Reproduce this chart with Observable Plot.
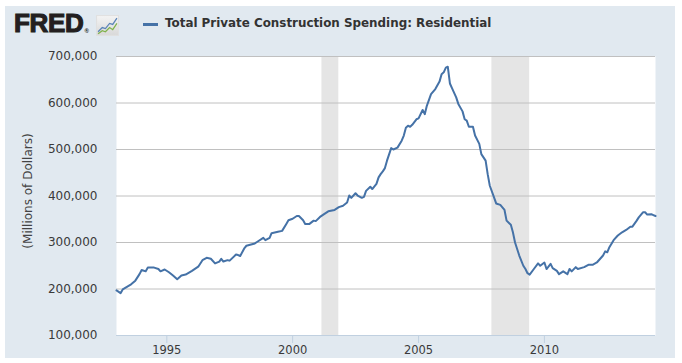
<!DOCTYPE html>
<html><head><meta charset="utf-8">
<script src="https://cdn.jsdelivr.net/npm/d3@7"></script>
<script src="https://cdn.jsdelivr.net/npm/@observablehq/plot@0.6"></script>
<style>
body{margin:0;background:#fff;}
#wrap{position:relative;width:682px;height:363px;overflow:hidden;}
#bg{position:absolute;left:5px;top:6px;width:670px;height:352px;background:#e1e9f0;}
#chart{position:absolute;left:0;top:0;}
#logo{position:absolute;left:14px;top:8px;font:bold 26px "Liberation Sans",Arial,sans-serif;color:#231f20;letter-spacing:-0.3px;-webkit-text-stroke:1.1px #231f20;}
#logo sup{font-size:6px;-webkit-text-stroke:0;vertical-align:-1px;margin-left:1px;}
#icon{position:absolute;left:96px;top:15px;}
#dash{position:absolute;left:143px;top:23px;width:15px;height:3px;background:#4572a7;}
#legend{position:absolute;left:165px;top:16px;font:bold 11.9px "DejaVu Sans",sans-serif;color:#333;white-space:nowrap;}
</style>
</head><body>
<div id="wrap">
  <div id="bg"></div>
  <div id="chart"></div>
  <div id="logo">FRED<sup>®</sup></div>
  <svg id="icon" width="23" height="21" viewBox="0 0 22 20">
    <defs><linearGradient id="g" x1="0" y1="0" x2="0" y2="1"><stop offset="0" stop-color="#f4f4f4"/><stop offset="1" stop-color="#d8d8d8"/></linearGradient></defs>
    <rect x="0.5" y="0.5" width="21" height="19" fill="url(#g)" stroke="#e0e0e0"/>
    <polyline points="2,16 6,12 9,13 13,8 16,9 20,3" fill="none" stroke="#5b84b8" stroke-width="1.2"/>
    <polyline points="2,18 6,15 9,16 13,12 16,14 20,8" fill="none" stroke="#7fb24b" stroke-width="1.2"/>
  </svg>
  <div id="dash"></div>
  <div id="legend">Total Private Construction Spending: Residential</div>
</div>
<script>
const dates = ["1993-01","1993-03","1993-04","1993-08","1993-10","1993-12","1994-01","1994-03","1994-04","1994-07","1994-09","1994-10","1994-12","1995-02","1995-04","1995-06","1995-08","1995-10","1996-01","1996-04","1996-06","1996-08","1996-10","1996-12","1997-02","1997-03","1997-04","1997-06","1997-07","1997-10","1997-11","1997-12","1998-02","1998-03","1998-07","1998-08","1998-11","1998-12","1999-02","1999-03","1999-06","1999-08","1999-10","1999-11","2000-01","2000-03","2000-04","2000-06","2000-07","2000-09","2000-11","2000-12","2001-02","2001-04","2001-06","2001-09","2001-11","2002-01","2002-03","2002-04","2002-05","2002-07","2002-08","2002-10","2002-11","2002-12","2003-02","2003-03","2003-05","2003-06","2003-07","2003-08","2003-09","2003-10","2003-12","2004-01","2004-03","2004-05","2004-06","2004-07","2004-08","2004-09","2004-10","2004-12","2005-01","2005-03","2005-04","2005-05","2005-07","2005-09","2005-11","2005-12","2006-01","2006-02","2006-03","2006-04","2006-05","2006-07","2006-08","2006-10","2006-11","2006-12","2007-01","2007-03","2007-04","2007-06","2007-07","2007-09","2007-10","2007-11","2008-01","2008-02","2008-04","2008-06","2008-07","2008-09","2008-10","2008-11","2009-01","2009-03","2009-04","2009-05","2009-06","2009-08","2009-10","2009-11","2010-01","2010-02","2010-03","2010-04","2010-05","2010-07","2010-08","2010-10","2010-12","2011-01","2011-02","2011-04","2011-05","2011-08","2011-10","2011-12","2012-02","2012-05","2012-06","2012-07","2012-08","2012-10","2012-12","2013-02","2013-04","2013-06","2013-07","2013-09","2013-10","2013-12","2014-01","2014-02","2014-04","2014-05","2014-06"];
const values = [197000,191000,199000,210000,218000,232000,241000,238000,246000,246000,243000,238000,242000,236000,229000,221000,229000,231000,239000,248000,262000,267000,265000,255000,259000,265000,259000,262000,261000,274000,273000,271000,288000,293000,298000,301000,310000,305000,310000,320000,323000,325000,340000,348000,351000,357000,357000,348000,340000,340000,347000,346000,355000,361000,367000,370000,376000,379000,386000,401000,396000,406000,401000,396000,398000,411000,420000,415000,426000,440000,447000,453000,460000,476000,503000,500000,504000,519000,530000,547000,551000,549000,553000,565000,567000,585000,576000,594000,619000,630000,646000,662000,666000,676000,678000,642000,632000,612000,598000,582000,565000,562000,549000,549000,530000,512000,490000,476000,447000,422000,397000,384000,381000,370000,347000,338000,322000,300000,272000,250000,243000,234000,231000,243000,255000,250000,257000,243000,248000,254000,245000,239000,232000,238000,232000,243000,238000,247000,243000,247000,252000,252000,257000,272000,281000,279000,290000,305000,315000,322000,327000,334000,334000,347000,354000,365000,365000,360000,361000,359000,357000];
const recessionStarts = ["2001-03","2007-12"];
const recessionEnds = ["2001-11","2009-06"];
const yTicks = [100000,200000,300000,400000,500000,600000,700000];
const xTickYears = ["1995","2000","2005","2010"];

const parse = d3.utcParse("%Y-%m");
const data = dates.map((d, i) => ({date: parse(d), value: values[i]}));
const recessions = recessionStarts.map((s, i) => ({start: parse(s), end: parse(recessionEnds[i])}));
const xTicks = xTickYears.map(y => d3.utcParse("%Y")(y));

const chart = Plot.plot({
  width: 682, height: 363,
  marginLeft: 116, marginRight: 27, marginTop: 56, marginBottom: 28,
  style: {background: "transparent", fontFamily: "DejaVu Sans, sans-serif", fontSize: "11.5px", color: "#3a3a3a", overflow: "visible"},
  x: {type: "utc", domain: [data[0].date, data[data.length - 1].date]},
  y: {domain: [100000, 700000]},
  marks: [
    Plot.frame({fill: "white", stroke: null}),
    Plot.rect(recessions, {x1: "start", x2: "end", fill: "#e5e5e5"}),
    Plot.gridY(yTicks, {stroke: "#c0c0c0", strokeOpacity: 1}),
    Plot.ruleY([100000], {stroke: "#c0d0e0", strokeWidth: 1.2}),
    Plot.line(data, {x: "date", y: "value", stroke: "#4572a7", strokeWidth: 2, strokeLinejoin: "round"}),
    Plot.axisY(yTicks, {tickSize: 0, tickPadding: 19, tickFormat: d3.format(","), label: null, fontSize: 12}),
    Plot.axisX(xTicks, {tickSize: 8, tickPadding: 2, tickFormat: d3.utcFormat("%Y"), label: null, stroke: "#c0d0e0"}),
    Plot.text(["(Millions of Dollars)"], {frameAnchor: "left", textAnchor: "middle", dx: -88, dy: -5, rotate: -90, fontSize: 12, fill: "#444"})
  ]
});
document.getElementById("chart").appendChild(chart);
</script>
</body></html>
